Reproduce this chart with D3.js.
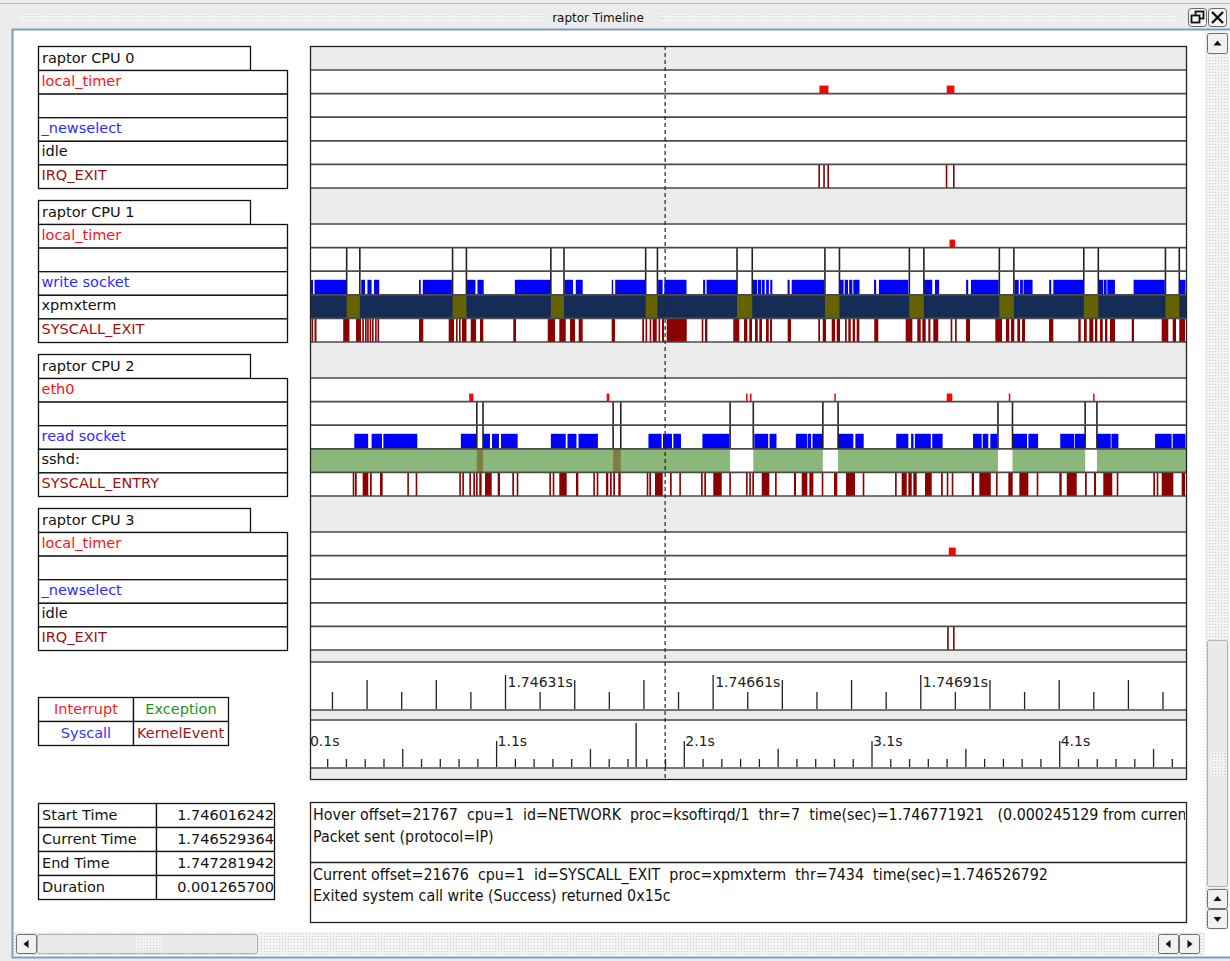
<!DOCTYPE html>
<meta charset="utf-8">
<style>
    body { margin: 0; background: #ececec; }
    svg text { font-family: "DejaVu Sans", sans-serif; font-size: 14.5px; }
    .lbl rect { fill: #fff; stroke: #111; stroke-width: 1.3px; }
    .msg text { font-family: "Liberation Sans Narrow", "DejaVu Sans Condensed", "Liberation Sans", sans-serif; font-size: 15px; white-space: pre; fill: #111; }
    .rule line { stroke: #222; stroke-width: 1.3px; }
    .rule text { fill: #222; font-size: 14px; }
</style>
<svg id="chart" width="1230" height="961"></svg>
<script src="https://d3js.org/d3.v7.min.js"></script>
<script>
    // trace times (seconds)
    var startTime = 1.746016242;
    var currentTime = 1.746529364;
    var endTime = 1.747281942;
    var duration = 0.001265700;
    var durationUs = 1265.7;

    var cpuNames = ["raptor CPU 0", "raptor CPU 1", "raptor CPU 2", "raptor CPU 3"];
    var rowNames = [
        ["local_timer", "", "_newselect", "idle", "IRQ_EXIT"],
        ["local_timer", "", "write socket", "xpmxterm", "SYSCALL_EXIT"],
        ["eth0", "", "read socket", "sshd:", "SYSCALL_ENTRY"],
        ["local_timer", "", "_newselect", "idle", "IRQ_EXIT"]
    ];

    // events, microseconds since start time
    var cpu0Timer = [[736, 749], [920, 931]];
    var cpu0IrqExit = [[736, 736], [743, 743], [749, 749], [920, 920], [930.5, 930.5]];

    var cpu1Timer = [[924, 932]];
    var cpu1Switch = [[53, 72], [206, 226], [348, 367], [485, 502], [617, 639], [744, 765], [866, 887], [996, 1017], [1118, 1139], [1236, 1256]];
    var cpu1Write = [[1.4, 4.3], [6.5, 53], [74, 79.5], [83, 89], [92.5, 100], [157.5, 160], [163, 205], [226, 239], [242, 251],
        [296, 348], [368, 380], [384, 394], [436, 438], [441, 485], [503, 509.5], [512, 544], [568, 571], [573, 617],
        [640, 646], [647, 652], [653, 657], [659, 663], [665, 668], [690, 693], [696, 743], [765, 771], [772.6, 777.4],
        [779, 783.6], [785, 794], [815, 818], [822, 864.5], [887, 899], [903, 909], [948, 951], [955, 995], [1018, 1024],
        [1026, 1030], [1031, 1044], [1068, 1071], [1074, 1117], [1140, 1146], [1147, 1151], [1152, 1163], [1190, 1235], [1256, 1265]];
    var cpu1Exit = [[2.2, 4.3], [6.5, 9.4], [48, 57], [66.5, 73.7], [77, 77], [81, 81], [84, 84], [87.5, 87.5], [91, 91],
        [95.5, 95.5], [99, 99], [157.5, 163.7], [200.4, 208.1], [211, 212.4], [215.3, 217.5], [219.6, 226.1], [232.2, 239.9],
        [245.6, 250.4], [293.7, 297.7], [343.5, 354], [360.2, 369.5], [375.7, 382.9], [388.2, 394], [435.9, 440.7],
        [480.1, 482.6], [484.8, 486.2], [490.8, 492.7], [495.2, 501], [503.6, 505.7], [508.6, 511.5], [515.4, 544.3],
        [566, 568.3], [570.7, 574.1], [611.6, 620.3], [627.1, 631.9], [634.7, 638.6], [643, 646.9], [649.2, 653.1],
        [658.9, 662.8], [664.7, 667.5], [690.2, 695], [734.4, 736.9], [740.8, 745.6], [753.8, 758.6], [761, 765.8],
        [773, 775.5], [777.8, 781.3], [784.1, 787.5], [789.9, 793.7], [815.3, 821.1], [860.7, 870.3], [877.5, 882.4],
        [884.7, 889.6], [893.4, 896.4], [900.6, 907.8], [925.7, 927.2], [932, 934.4], [947.9, 953.6], [990.2, 999.9],
        [1005.6, 1010.4], [1012.9, 1017.6], [1022, 1025.9], [1028.8, 1033.1], [1067.8, 1074], [1110.1, 1113.6],
        [1118.4, 1122.3], [1126, 1131.8], [1134.2, 1137.6], [1141.5, 1145.4], [1148.7, 1152], [1155.9, 1163.1],
        [1187.3, 1190.6], [1230.6, 1240.1], [1246.5, 1251.3], [1256, 1264.3]];

    var cpu2Eth0 = [[230, 236], [428.7, 432.5], [630, 632], [635.8, 637.6], [757.6, 759.6], [920, 928], [1009.6, 1011.9], [1131.4, 1133.3]];
    var cpu2Switch = [[241, 250, "run"], [438, 449, "run"], [607, 640.5, "idle"], [741, 763, "idle"], [994, 1015, "idle"], [1120, 1137, "idle"]];
    var cpu2Read = [[64, 84], [89, 104], [106, 155], [218, 241], [250, 260], [263, 273], [276, 300], [348, 369.5], [372, 385],
        [388, 416], [489, 508], [510, 523], [525, 536], [567, 606], [642, 662], [664, 674], [702, 718], [719, 724], [726, 741],
        [763, 785], [788, 800], [847, 864.5], [868.5, 872], [874, 897], [899, 914], [958, 970.5], [972, 980], [983, 993],
        [1015, 1036], [1038, 1052], [1084, 1104], [1105, 1120], [1137, 1157], [1158, 1168], [1221, 1245], [1246.5, 1265]];
    var cpu2Entry = [[61.7, 63.6], [65, 67.5], [76.1, 84.2], [86.7, 89.2], [101.1, 105], [140.6, 142.6], [152.7, 155],
        [215.7, 217.7], [220.1, 221.5], [230.2, 232.2], [236, 238.4], [239.9, 241.7], [244.6, 248], [252.9, 262.5],
        [271.2, 274.5], [292.3, 294.8], [298.7, 300.5], [345.8, 347.8], [350.7, 352.6], [360.2, 370.9], [384.3, 387.7],
        [409.3, 411.4], [414.3, 416.1], [427.7, 431], [433.5, 435.9], [438.2, 440.7], [445.4, 448.9], [486.5, 488.8],
        [490.3, 492.7], [498.5, 509.6], [520.2, 522.6], [533.6, 535.6], [565, 567.4], [569.7, 572.2], [582.7, 594.9],
        [605.8, 607.8], [630, 631.9], [634.7, 636.7], [639.1, 641.5], [652.7, 663.7], [671.9, 674.3], [699.3, 702.2],
        [710.5, 718.6], [721.5, 727.3], [739.4, 741.7], [757.1, 761.9], [774.5, 787.5], [798.6, 800.5], [845.3, 847.7],
        [854.9, 862.2], [864.5, 869.4], [871.7, 876.6], [888.6, 898.3], [911.8, 914.3], [920, 922.3], [927.2, 929.5],
        [956.1, 959.4], [967.1, 983.6], [991.2, 993.1], [1009, 1015.3], [1024.9, 1037.9], [1050, 1052.3], [1082.7, 1086.1],
        [1093.4, 1107.8], [1119.8, 1122.3], [1132.8, 1135.7], [1146.2, 1159.2], [1165.6, 1167.9], [1218.5, 1220.9],
        [1223.4, 1225.7], [1230.6, 1247.4], [1259.5, 1264.3]];

    var cpu3Timer = [[923, 933]];
    var cpu3IrqExit = [[922, 922], [930.5, 930.5]];

    // ruler ticks (seconds) and overview ticks
    var rulerFirstTick = 1.74606, rulerStep = 0.00005, rulerCount = 25;
    var rulerLabels = [1.74631, 1.74661, 1.74691];
    var rulerLag = 0.000012;
    var overviewTicks = d3.range(1, 48).map(function (i) { return i / 10; });
    var overviewDomain = [0.1085, 4.7755];
    var overviewMark = 1.846;

    var legend = [["Interrupt", "#ff1a1a"], ["Exception", "#1b951b"], ["Syscall", "#3434ff"], ["KernelEvent", "#a01515"]];
    var hoverLines = ["Hover offset=21767  cpu=1  id=NETWORK  proc=ksoftirqd/1  thr=7  time(sec)=1.746771921   (0.000245129 from current time)",
        "Packet sent (protocol=IP)"];
    var currentLines = ["Current offset=21676  cpu=1  id=SYSCALL_EXIT  proc=xpmxterm  thr=7434  time(sec)=1.746526792",
        "Exited system call write (Success) returned 0x15c"];

    var timerRows = [cpu0Timer, cpu1Timer, cpu2Eth0, cpu3Timer];
    var syscallRows = [[], cpu1Write, cpu2Read, []];
    var kernelRows = [cpu0IrqExit, cpu1Exit, cpu2Entry, cpu3IrqExit];
    var switchRows = [[], cpu1Switch, cpu2Switch, []];
    var procFill = ["#ffffff", "#152c57", "#8bb87a", "#ffffff"];
    var switchFill = ["#ffffff", "#676200", "#7e7d44", "#ffffff"];

    var svg = d3.select("#chart");
    var left = 310, right = 1186;
    var x = d3.scaleLinear().domain([0, durationUs]).range([left, right]);
    var ruler = d3.scaleLinear().domain([startTime + rulerLag, endTime + rulerLag]).range([left, right]);
    var overview = d3.scaleLinear().domain(overviewDomain).range([left, right]);

    var headerH = 24, rowH = 23.6, blockStep = 154, top0 = 46;
    function blockTop(i) { return top0 + i * blockStep; }
    function rowTop(i, r) { return blockTop(i) + headerH + r * rowH; }

    var defs = svg.append("defs");
    var dots = defs.append("pattern").attr("id", "dots").attr("width", 3).attr("height", 3)
        .attr("patternUnits", "userSpaceOnUse");
    dots.append("rect").attr("width", 3).attr("height", 3).attr("fill", "#f3f3f3");
    dots.append("rect").attr("width", 1).attr("height", 1).attr("fill", "#c9c9c9");
    defs.append("clipPath").attr("id", "panelClip").append("rect")
        .attr("x", left).attr("y", 46).attr("width", right - left).attr("height", 734);
    defs.append("clipPath").attr("id", "legendClip").append("rect")
        .attr("x", 38).attr("y", 697).attr("width", 190).attr("height", 48);
    defs.append("clipPath").attr("id", "infoClip").append("rect")
        .attr("x", 38).attr("y", 803).attr("width", 237).attr("height", 96);
    defs.append("clipPath").attr("id", "msgClip").append("rect")
        .attr("x", 311).attr("y", 802).attr("width", 874).attr("height", 120);

    // ---- window chrome ----
    svg.append("rect").attr("width", 1230).attr("height", 961).attr("fill", "#ececec");
    svg.append("line").attr("x1", 0).attr("x2", 1230).attr("y1", 3.5).attr("y2", 3.5).attr("stroke", "#b8b8b8");
    svg.append("rect").attr("x", 20).attr("y", 14).attr("width", 525).attr("height", 7).attr("fill", "url(#dots)");
    svg.append("rect").attr("x", 660).attr("y", 14).attr("width", 518).attr("height", 7).attr("fill", "url(#dots)");
    svg.append("text").attr("x", 598).attr("y", 22).attr("text-anchor", "middle")
        .style("font-size", "12px").attr("fill", "#111").text("raptor Timeline");
    [[1188, "restore"], [1208, "close"]].forEach(function (b) {
        svg.append("rect").attr("x", b[0] + 0.5).attr("y", 8.5).attr("width", 18).attr("height", 18).attr("rx", 3)
            .attr("fill", "#f4f4f4").attr("stroke", "#666");
        if (b[1] == "close") {
            svg.append("path").attr("d", "M1212,12L1223,23M1223,12L1212,23").attr("stroke", "#111").attr("stroke-width", 2.4);
        } else {
            svg.append("rect").attr("x", 1195.5).attr("y", 11.5).attr("width", 8).attr("height", 7).attr("fill", "none").attr("stroke", "#111").attr("stroke-width", 1.8);
            svg.append("rect").attr("x", 1191.5).attr("y", 15.5).attr("width", 8).attr("height", 7).attr("fill", "#f4f4f4").attr("stroke", "#111").attr("stroke-width", 1.8);
        }
    });
    svg.append("rect").attr("x", 12.5).attr("y", 29.5).attr("width", 1230).attr("height", 928)
        .attr("fill", "#fff").attr("stroke", "#7f9bbf").attr("stroke-width", 2);

    function button(bx, by, w, h, dir) {
        svg.append("rect").attr("x", bx + 0.5).attr("y", by + 0.5).attr("width", w).attr("height", h).attr("rx", 2)
            .attr("fill", "#f1f1f1").attr("stroke", "#6f6f6f");
        var cx = bx + w / 2 + 0.5, cy = by + h / 2 + 0.5, s = 4;
        var d = dir == "up" ? [[cx - s, cy + 2], [cx + s, cy + 2], [cx, cy - 3]]
            : dir == "down" ? [[cx - s, cy - 2], [cx + s, cy - 2], [cx, cy + 3]]
                : dir == "left" ? [[cx + 2, cy - s], [cx + 2, cy + s], [cx - 3, cy]]
                    : [[cx - 2, cy - s], [cx - 2, cy + s], [cx + 3, cy]];
        svg.append("path").attr("d", "M" + d.join("L") + "Z").attr("fill", "#111");
    }
    // vertical scrollbar
    svg.append("rect").attr("x", 1205).attr("y", 31).attr("width", 24).attr("height", 899).attr("fill", "url(#dots)");
    svg.append("rect").attr("x", 1207.5).attr("y", 640.5).attr("width", 20).attr("height", 246).attr("rx", 2)
        .attr("fill", "#eaeaea").attr("stroke", "#b0b0b0");
    svg.append("rect").attr("x", 1210).attr("y", 752).attr("width", 15).attr("height", 24).attr("fill", "url(#dots)");
    button(1207, 33, 20, 20, "up");
    button(1207, 889, 20, 19, "up");
    button(1207, 909, 20, 19, "down");
    // horizontal scrollbar
    svg.append("rect").attr("x", 14).attr("y", 932).attr("width", 1191).attr("height", 23).attr("fill", "url(#dots)");
    button(16, 934, 20, 19, "left");
    svg.append("rect").attr("x", 37.5).attr("y", 934.5).attr("width", 220).attr("height", 19).attr("rx", 2)
        .attr("fill", "#eaeaea").attr("stroke", "#b0b0b0");
    svg.append("rect").attr("x", 135).attr("y", 937).attr("width", 27).attr("height", 13).attr("fill", "url(#dots)");
    button(1158, 934, 20, 19, "left");
    button(1179, 934, 20, 19, "right");

    // ---- left labels ----
    var lbl = svg.append("g").attr("class", "lbl");
    cpuNames.forEach(function (name, i) {
        lbl.append("rect").attr("x", 38.5).attr("y", blockTop(i) + 0.5).attr("width", 212).attr("height", headerH);
        lbl.append("text").attr("x", 42).attr("y", blockTop(i) + 16.5).attr("fill", "#111").text(name);
        rowNames[i].forEach(function (rn, r) {
            lbl.append("rect").attr("x", 38.5).attr("y", rowTop(i, r) + 0.5).attr("width", 249).attr("height", rowH);
            var col = r == 0 ? "#ff1111" : r == 2 ? "#2c2cff" : r == 4 ? "#9c1212" : "#111";
            lbl.append("text").attr("x", 41.5).attr("y", rowTop(i, r) + 15.5).attr("fill", col).text(rn);
        });
    });

    // ---- timeline panel ----
    var panel = svg.append("g");
    panel.append("rect").attr("x", left).attr("y", 46).attr("width", right - left).attr("height", 734).attr("fill", "#ececec");
    var marks = panel.append("g").attr("clip-path", "url(#panelClip)");

    cpuNames.forEach(function (name, i) {
        marks.append("rect").attr("x", left).attr("y", rowTop(i, 0)).attr("width", right - left).attr("height", 5 * rowH).attr("fill", "#fff");
        // process row
        marks.append("rect").attr("x", left).attr("y", rowTop(i, 3)).attr("width", right - left).attr("height", rowH).attr("fill", procFill[i]);
        marks.append("g").selectAll("rect").data(switchRows[i]).enter().append("rect")
            .attr("x", function (d) { return x(d[0]); })
            .attr("width", function (d) { return x(d[1]) - x(d[0]); })
            .attr("y", rowTop(i, 3)).attr("height", rowH)
            .attr("fill", function (d) { return d[2] == "idle" ? "#ffffff" : switchFill[i]; });
        // interrupts
        marks.append("g").selectAll("rect").data(timerRows[i]).enter().append("rect")
            .attr("x", function (d) { return x(d[0]); })
            .attr("width", function (d) { return Math.max(1.5, x(d[1]) - x(d[0])); })
            .attr("y", rowTop(i, 1) - 8).attr("height", 8).attr("fill", "#ff0000");
        // syscalls
        marks.append("g").selectAll("rect").data(syscallRows[i]).enter().append("rect")
            .attr("x", function (d) { return x(d[0]); })
            .attr("width", function (d) { return Math.max(1.2, x(d[1]) - x(d[0])); })
            .attr("y", rowTop(i, 3) - 15).attr("height", 15).attr("fill", "#0000ff");
        // kernel events
        marks.append("g").selectAll("rect").data(kernelRows[i]).enter().append("rect")
            .attr("x", function (d) { return x(d[0]) - (d[0] == d[1] ? 1 : 0); })
            .attr("width", function (d) { return Math.max(1.6, x(d[1]) - x(d[0])); })
            .attr("y", rowTop(i, 4)).attr("height", rowH).attr("fill", "#8b0000");
    });

    marks.append("rect").attr("x", left).attr("y", 662).attr("width", right - left).attr("height", 48).attr("fill", "#fff");
    marks.append("rect").attr("x", left).attr("y", 720).attr("width", right - left).attr("height", 48).attr("fill", "#fff");

    // row lines
    var lineYs = [];
    cpuNames.forEach(function (name, i) {
        for (var r = 0; r <= 5; r++) lineYs.push(rowTop(i, r));
    });
    lineYs.push(662, 710, 720, 768);
    panel.append("g").selectAll("line").data(lineYs).enter().append("line")
        .attr("x1", left).attr("x2", right).attr("y1", function (d) { return d; }).attr("y2", function (d) { return d; })
        .attr("stroke", "#4a4a4a").attr("stroke-width", 1.7);

    // context switch boxes
    cpuNames.forEach(function (name, i) {
        var g = marks.append("g");
        switchRows[i].forEach(function (d) {
            [d[0], d[1]].forEach(function (t) {
                g.append("line").attr("x1", x(t)).attr("x2", x(t)).attr("y1", rowTop(i, 1)).attr("y2", rowTop(i, 3))
                    .attr("stroke", "#222").attr("stroke-width", 1.6);
            });
        });
    });

    // ruler
    var rulerTicks = d3.range(rulerCount).map(function (k) { return rulerFirstTick + k * rulerStep; });
    function rulerIdx(d) { return Math.round((d - rulerFirstTick) / rulerStep); }
    function isLabel(d) { return rulerLabels.some(function (v) { return Math.abs(v - d) < 1e-9; }); }
    var rg = marks.append("g").attr("class", "rule").attr("transform", "translate(0,709)")
        .call(d3.axisTop(ruler).tickValues(rulerTicks).tickSize(0)
            .tickFormat(function (d) { return isLabel(d) ? d.toFixed(5) + "s" : ""; }));
    rg.select(".domain").remove();
    rg.selectAll(".tick line").attr("y2", function (d) { return isLabel(d) ? -34 : rulerIdx(d) % 2 ? -29 : -17; });
    rg.selectAll(".tick text").attr("x", 2).attr("y", -22).attr("dy", 0).attr("text-anchor", "start");

    var og = marks.append("g").attr("class", "rule").attr("transform", "translate(0,767)")
        .call(d3.axisTop(overview).tickValues(overviewTicks).tickSize(0)
            .tickFormat(function (d) { return Math.round(d * 10) % 10 == 1 ? d3.format(".1f")(d) + "s" : ""; }));
    og.select(".domain").remove();
    og.selectAll(".tick line").attr("y2", function (d) {
        var k = Math.round(d * 10) % 10;
        return k == 1 ? -26 : k == 6 ? -18 : -8;
    });
    og.selectAll(".tick text").attr("x", 1).attr("y", -21).attr("dy", 0).attr("text-anchor", "start");
    marks.append("line").attr("class", "mark").attr("x1", overview(overviewMark)).attr("x2", overview(overviewMark))
        .attr("y1", 723).attr("y2", 767).attr("stroke", "#222").attr("stroke-width", 1.4);

    // cursor
    var cx = x((currentTime - startTime) * 1e6);
    panel.append("line").attr("x1", cx).attr("x2", cx).attr("y1", 46).attr("y2", 780)
        .attr("stroke", "#222").attr("stroke-width", 1.2).attr("stroke-dasharray", "4,3");
    panel.append("rect").attr("x", left + 0.5).attr("y", 46.5).attr("width", right - left).attr("height", 733)
        .attr("fill", "none").attr("stroke", "#222").attr("stroke-width", 1.3);

    // ---- legend ----
    var lg = svg.append("g").attr("class", "lbl");
    legend.forEach(function (d, k) {
        var col = k % 2, row = Math.floor(k / 2);
        lg.append("rect").attr("x", 38.5 + col * 95).attr("y", 697.5 + row * 24).attr("width", 95).attr("height", 24);
    });
    var lgt = svg.append("g").attr("clip-path", "url(#legendClip)");
    legend.forEach(function (d, k) {
        var col = k % 2, row = Math.floor(k / 2);
        lgt.append("text").attr("x", k == 3 ? 137 : 86 + col * 95).attr("y", 714 + row * 24)
            .attr("text-anchor", k == 3 ? "start" : "middle").attr("fill", d[1]).text(d[0]);
    });

    // ---- time table ----
    var info = [["Start Time", startTime.toFixed(9)], ["Current Time", currentTime.toFixed(9)],
        ["End Time", endTime.toFixed(9)], ["Duration", duration.toFixed(9)]];
    var tg = svg.append("g").attr("class", "lbl");
    var tgt = svg.append("g").attr("clip-path", "url(#infoClip)");
    info.forEach(function (d, k) {
        tg.append("rect").attr("x", 38.5).attr("y", 803.5 + k * 24).attr("width", 118).attr("height", 24);
        tg.append("rect").attr("x", 156.5).attr("y", 803.5 + k * 24).attr("width", 118).attr("height", 24);
        tgt.append("text").attr("x", 42).attr("y", 820 + k * 24).attr("fill", "#111").text(d[0]);
        tgt.append("text").attr("x", 274).attr("y", 820 + k * 24).attr("text-anchor", "end").attr("fill", "#111").text(d[1]);
    });

    // ---- message boxes ----
    svg.append("rect").attr("x", 310.5).attr("y", 802.5).attr("width", 876).attr("height", 120)
        .attr("fill", "#fff").attr("stroke", "#222").attr("stroke-width", 1.3);
    svg.append("line").attr("x1", 310).attr("x2", 1186).attr("y1", 862.5).attr("y2", 862.5).attr("stroke", "#222").attr("stroke-width", 1.3);
    var mg = svg.append("g").attr("clip-path", "url(#msgClip)").attr("class", "msg");
    var msgInner = mg.append("g");
    hoverLines.concat(currentLines).forEach(function (s, k) {
        msgInner.append("text").attr("x", 0).attr("y", [820, 842, 880, 901][k]).text(s);
    });
    // fit the narrow font: the "Current" line spans about 735px in the app
    var refLen = msgInner.selectAll("text").nodes()[2].getComputedTextLength();
    var k = 735 / refLen;
    msgInner.attr("transform", "translate(313,0) scale(" + k + ",1)");
</script>
